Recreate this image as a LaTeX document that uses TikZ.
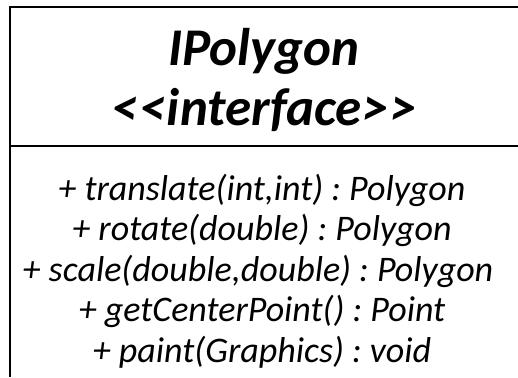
\documentclass[tikz,border=0pt]{standalone}
\usepackage{fontspec}
\setmainfont{Carlito}
\frenchspacing
\begin{document}
\begin{tikzpicture}[x=1pt,y=-1pt,
  border/.style={line width=2.6pt,black},
  title/.style={anchor=base,inner sep=0pt,font=\fontsize{53}{60}\selectfont\bfseries\itshape},
  meth/.style={anchor=base,inner sep=0pt,font=\frenchspacing\fontsize{36}{42}\selectfont\itshape}]
\useasboundingbox (0,0) rectangle (518,377);
\coordinate (tl) at (10,7);
\coordinate (tr) at (518,7);
\coordinate (bl) at (10,377);
\coordinate (dl) at (10,146);
\coordinate (dr) at (518,146);
\draw[border] (tr) -- (tl) -- (bl);
\draw[border] (dl) -- (dr);
\node[title] (name) at (264,66) {IPolygon};
\node[title] (stereo) at (264,125) {{<}\kern2pt{<}\kern1pt interface{>}\kern2pt{>}};
\node[meth] (m1) at (262,200) {+ translate(int,int) : Polygon};
\node[meth] (m2) at (262,240.5) {+ rotate(double) : Polygon};
\node[meth] (m3) at (258,281) {+ scale(double,double) : Polygon};
\node[meth] (m4) at (262,321.5) {+ getCenterPoint() : Point};
\node[meth] (m5) at (262,362) {+ paint(Graphics) : void};
\end{tikzpicture}
\end{document}
